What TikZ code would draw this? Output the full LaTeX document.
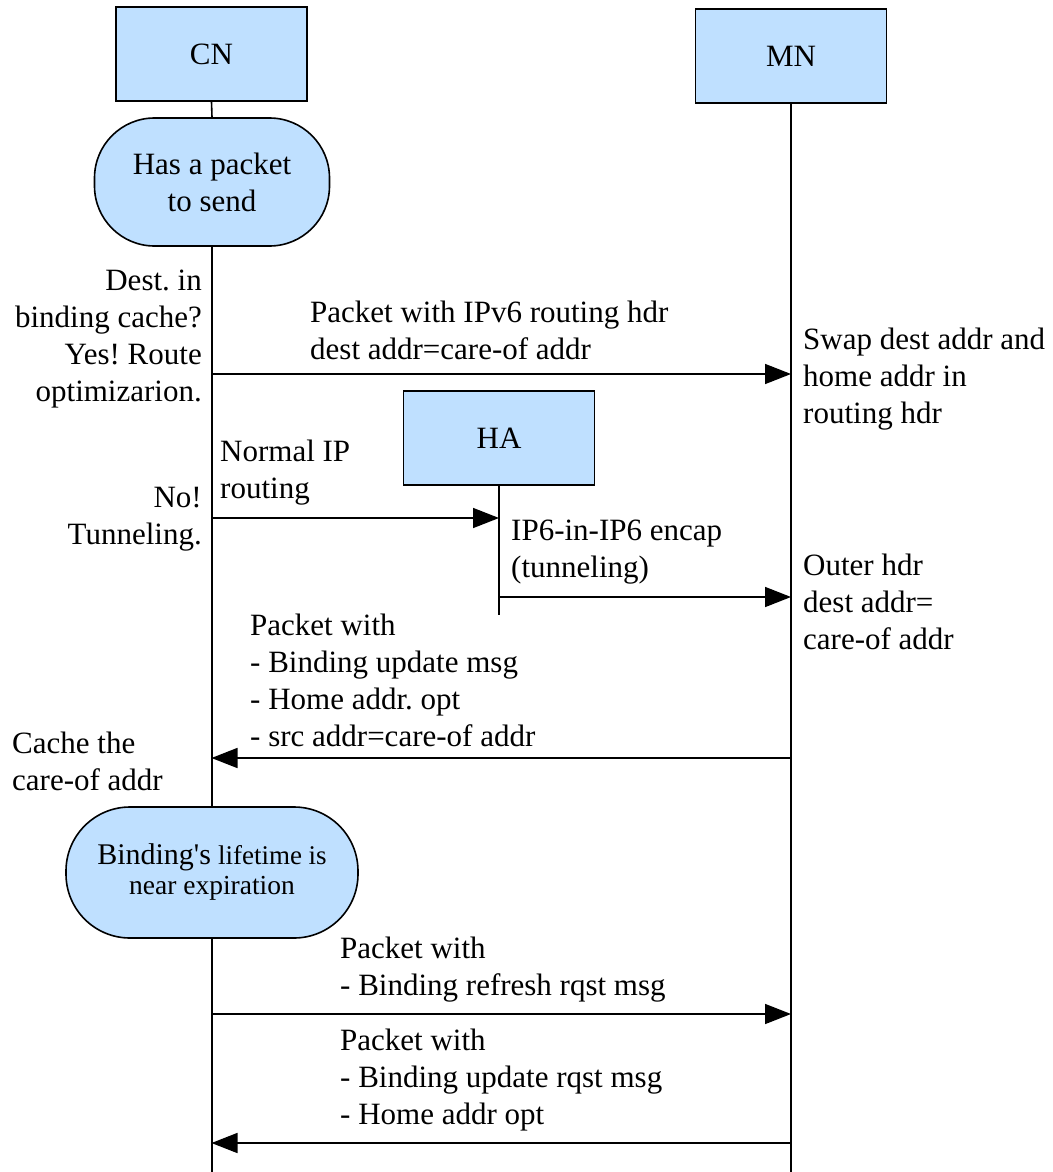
\documentclass[tikz,border=0pt]{standalone}
\usepackage{fontspec}
\setmainfont{Liberation Serif}
\usetikzlibrary{arrows.meta}
\definecolor{boxblue}{RGB}{191,224,255}
\begin{document}
\frenchspacing
\begin{tikzpicture}[x=1pt,y=-1pt,
  every node/.style={font=\fontsize{31}{37}\selectfont\frenchspacing, inner sep=0pt},
  entity/.style={draw, line width=1.6pt, fill=boxblue, minimum width=191pt, minimum height=94pt},
  state/.style={draw, line width=1.6pt, fill=boxblue, align=center},
  lifeline/.style={line width=1.6pt},
  msg/.style={line width=1.6pt, -{Triangle[length=26pt,width=20pt]}},
  note/.style={align=left, anchor=west},
  rnote/.style={align=right, anchor=east}]
\useasboundingbox (0,0) rectangle (1052,1172);

% participants
\node[entity] (cn) at (211.5,54) {CN};
\node[entity] (mn) at (791,56) {MN};
\node[entity] (ha) at (499,438) {HA};

% states on the CN lifeline
\node[state, minimum width=235pt, minimum height=128pt, rounded corners=60pt] (send) at (212,182)
  {Has a packet\\to send};
\node[state, minimum width=292pt, minimum height=131pt, rounded corners=64pt,
      font=\fontsize{28}{30}\selectfont] (expire) at (212,872.5)
  {{\fontsize{30}{30}\selectfont Binding\textquotesingle s} {\fontsize{27}{30}\selectfont lifetime is}\\
   {\fontsize{27.5}{30}\selectfont near expiration}};

% lifeline ends
\coordinate (cnend) at (212,1172);
\coordinate (mnend) at (791,1172);
\coordinate (haend) at (499,615);

% lifelines
\draw[lifeline] (cn.south) -- (send.north);
\draw[lifeline] (send.south) -- (expire.north);
\draw[lifeline] (expire.south) -- (cnend);
\draw[lifeline] (mn.south) -- (mnend);
\draw[lifeline] (ha.south) -- (haend);

% messages
\draw[msg] (cn.south |- 0,374) -- (mn.south |- 0,374);
\draw[msg] (cn.south |- 0,518) -- (ha.south |- 0,518);
\draw[msg] (ha.south |- 0,597) -- (mn.south |- 0,597);
\draw[msg] (mn.south |- 0,758) -- (cn.south |- 0,758);
\draw[msg] (cn.south |- 0,1014) -- (mn.south |- 0,1014);
\draw[msg] (mn.south |- 0,1143) -- (cn.south |- 0,1143);

% annotations
\node[rnote] (q) at (202,339.5) {Dest. in\\binding cache?\\Yes! Route\\optimizarion.};
\node[rnote] (no) at (202,519) {No!\\Tunneling.};
\node[note] (m1) at (310,330) {Packet with IPv6 routing hdr\\dest addr=care-of addr};
\node[note] (m2) at (220,473) {Normal IP\\routing};
\node[note] (m3) at (511,552) {IP6-in-IP6 encap\\(tunneling)};
\node[note] (swap) at (803,379) {Swap dest addr and\\home addr in\\routing hdr};
\node[note] (outer) at (803,602) {Outer hdr\\dest addr=\\care-of addr};
\node[note] (m4) at (250,680) {Packet with\\- Binding update msg\\- Home addr. opt\\- src addr=care-of addr};
\node[note] (cache) at (12,761) {Cache the\\care-of addr};
\node[note] (m5) at (340,970) {Packet with\\- Binding refresh rqst msg};
\node[note] (m6) at (340,1080) {Packet with\\- Binding update rqst msg\\- Home addr opt};
\end{tikzpicture}
\end{document}
